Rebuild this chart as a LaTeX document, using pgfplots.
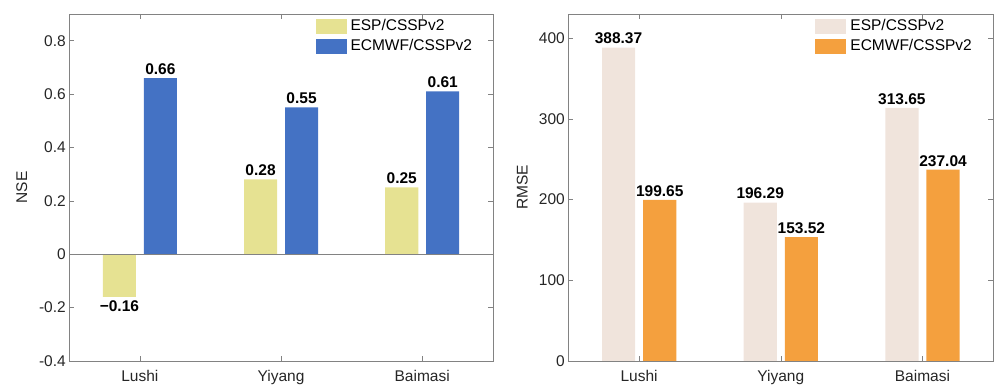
\documentclass[border=0pt]{standalone}
\usepackage{fontspec}
\setmainfont{Liberation Sans}
\usepackage{pgfplots}
\pgfplotsset{compat=1.18}
\definecolor{espY}{RGB}{230,226,146}
\definecolor{ecB}{RGB}{68,114,196}
\definecolor{espB}{RGB}{240,228,220}
\definecolor{ecO}{RGB}{244,160,62}
\definecolor{axgray}{RGB}{130,130,130}
\definecolor{txt}{RGB}{38,38,38}
\newcommand{\fs}{\fontsize{15.5bp}{18bp}\selectfont}
\pgfplotsset{
  myax/.style={
    scale only axis, height=347bp, anchor=south west,
    xmin=0.5, xmax=3.5, xtick={1,2,3}, xticklabels={Lushi,Yiyang,Baimasi},
    tick align=inside, major tick length=5bp,
    axis line style={axgray, line width=0.6bp},
    every tick/.style={axgray, line width=0.6bp},
    tick label style={font=\fs, text=txt},
    label style={font=\fs, text=txt},
    /pgf/number format/assume math mode=true,
    xticklabel style={yshift=-6bp},
    point meta=explicit symbolic,
    legend style={draw=none, fill=none, font=\fs, anchor=north west,
      inner sep=0pt, column sep=4bp, row sep=5bp,
      nodes={inner sep=0pt, text height=11bp, text depth=4bp}},
    legend cell align=left,
  },
  mybar/.style 2 args={ybar, bar width=0.234, bar shift=#1, draw=none,
    nodes near coords,
    visualization depends on={value \thisrow{anc} \as \anc},
    every node near coord/.append style={font=\bfseries\fs, text=black, xshift=#2, anchor=\anc},
    legend image code/.code={\fill[##1] (0bp,-7.5bp) rectangle (31bp,7.5bp);}},
}
\begin{document}
\begin{tikzpicture}
\useasboundingbox (0,0) rectangle (994bp,387bp);
\begin{axis}[myax, at={(69.3bp,26bp)}, width=423.5bp,
  ymin=-0.4, ymax=0.9, ytick={-0.4,-0.2,0,0.2,0.4,0.6,0.8},
  yticklabels={-0.4,-0.2,0,0.2,0.4,0.6,0.8},
  ylabel={NSE},
  y label style={at={(axis description cs:-0.112,0.5)}, anchor=center},
  legend style={at={(0.581,0.985)}}]
\addplot[mybar={-0.145}{-20.5bp}, fill=espY] table[x=x, y=y, meta=lab] {
x y lab anc
1 -0.16 −0.16 north
2 0.28 0.28 south
3 0.25 0.25 south
};
\addplot[mybar={0.145}{20.5bp}, fill=ecB] table[x=x, y=y, meta=lab] {
x y lab anc
1 0.66 0.66 south
2 0.55 0.55 south
3 0.61 0.61 south
};
\draw[axgray, line width=0.6bp] (axis cs:0.5,0) -- (axis cs:3.5,0);
\legend{ESP/CSSPv2, ECMWF/CSSPv2}
\end{axis}
\begin{axis}[myax, at={(568.3bp,26bp)}, width=425bp,
  ymin=0, ymax=430, ytick={0,100,200,300,400},
  ylabel={RMSE},
  y label style={at={(axis description cs:-0.108,0.5)}, anchor=center},
  legend style={at={(0.581,0.985)}}]
\addplot[mybar={-0.145}{-20.6bp}, fill=espB] table[x=x, y=y, meta=lab] {
x y lab anc
1 388.37 388.37 south
2 196.29 196.29 south
3 313.65 313.65 south
};
\addplot[mybar={0.145}{20.6bp}, fill=ecO] table[x=x, y=y, meta=lab] {
x y lab anc
1 199.65 199.65 south
2 153.52 153.52 south
3 237.04 237.04 south
};
\legend{ESP/CSSPv2, ECMWF/CSSPv2}
\end{axis}
\end{tikzpicture}
\end{document}
